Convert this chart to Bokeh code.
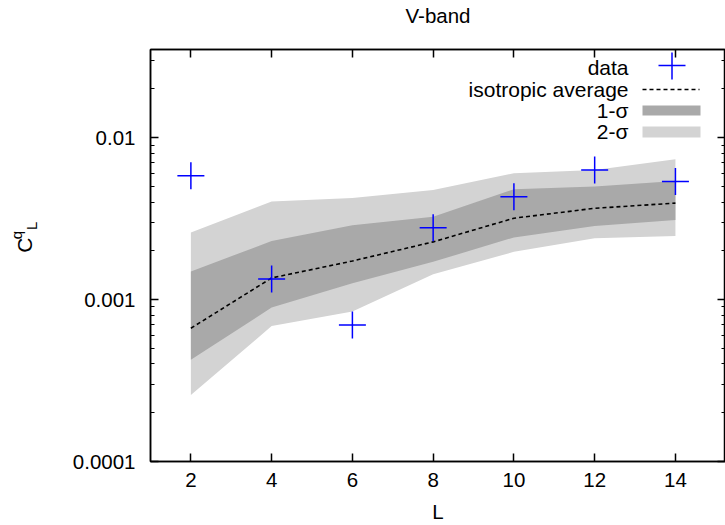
import math
from bokeh.plotting import figure
from bokeh.layouts import row, column
from bokeh.models import (Range1d, FixedTicker, LinearAxis, LogAxis, CustomJSTickFormatter,
                          Label, BoxAnnotation, PolyAnnotation, ColumnDataSource)
from bokeh.core.properties import value
from bokeh.embed import file_html
from bokeh.resources import INLINE

# ---- data ----
L = [2, 4, 6, 8, 10, 12, 14]
data = [0.00581, 0.00134, 0.000697, 0.00278, 0.00431, 0.00632, 0.00535]
iso_avg = [0.000665, 0.00136, 0.00173, 0.00227, 0.00318, 0.00366, 0.00394]
s1_lo = [0.000425, 0.000893, 0.00126, 0.00171, 0.00242, 0.00285, 0.0031]
s1_hi = [0.00149, 0.0023, 0.00288, 0.00324, 0.0048, 0.00499, 0.0054]
s2_lo = [0.000257, 0.000686, 0.000843, 0.001435, 0.00197, 0.00239, 0.00247]
s2_hi = [0.00259, 0.00403, 0.00423, 0.00475, 0.00603, 0.00632, 0.00736]
x_ticks = [2, 4, 6, 8, 10, 12, 14]
y_ticks = [0.0001, 0.001, 0.01]
y_minor = [m * d for d in (0.0001, 0.001, 0.01) for m in range(2, 10)]
legend_labels = ["data", "isotropic average", "1-\u03c3", "2-\u03c3"]
title_text = "V-band"

FONT = "Liberation Sans"
FS = "20.5px"
LFS = "21px"
DARK = "#a9a9a9"
LIGHT = "#d3d3d3"
W, H = 725, 525
LW = 40   # width of the y-label strip
TH = 30   # height of the title strip
MH = H - TH

src = ColumnDataSource(dict(L=L, data=data, avg=iso_avg, s1lo=s1_lo, s1hi=s1_hi,
                            s2lo=s2_lo, s2hi=s2_hi))

def strip(w, h):
    f = figure(width=w, height=h, x_range=Range1d(0, w), y_range=Range1d(0, h),
               output_backend="svg", toolbar_location=None, x_axis_location=None,
               y_axis_location=None, min_border=0, outline_line_color=None)
    f.xgrid.visible = False
    f.ygrid.visible = False
    return f

# ---- title strip ----
ttl = strip(W, TH)
ttl.text(x=[437.5], y=[TH - 15], text=[title_text], text_align="center",
         text_baseline="middle", text_font=value(FONT), text_font_size=FS, text_color="black")

# ---- y-axis label strip: C^q_L rotated ----
lab = strip(LW, MH)
for txt, x0, y0, fs in [("C", 24, 265, "21px"), ("q", 16, 253, "15px"), ("L", 31, 242, "15px")]:
    lab.text(x=[x0], y=[H - y0], text=[txt], angle=math.pi / 2, text_align="center",
             text_baseline="middle", text_font=value(FONT), text_font_size=fs,
             text_color="black")

p = figure(width=W - LW, height=MH, x_range=Range1d(1, 15.24), y_range=Range1d(1e-4, 0.035),
           y_axis_type="log", output_backend="svg", toolbar_location=None,
           min_border_left=150 - LW, min_border_right=0, min_border_top=49 - TH,
           min_border_bottom=H - 461)
p.outline_line_color = "black"
p.outline_line_width = 1.5
p.xgrid.visible = False
p.ygrid.visible = False

def style_axis(ax, labels=True):
    ax.axis_line_color = "black"
    ax.axis_line_width = 1.5
    ax.major_tick_in = 8
    ax.major_tick_out = 0
    ax.minor_tick_in = 4
    ax.minor_tick_out = 0
    ax.major_tick_line_color = "black"
    ax.minor_tick_line_color = "black"
    ax.major_tick_line_width = 1.5
    ax.minor_tick_line_width = 1.2
    ax.major_label_text_font = FONT
    ax.major_label_text_font_size = FS
    ax.major_label_text_color = "black"
    ax.axis_label_text_font = FONT
    ax.axis_label_text_font_size = FS
    ax.axis_label_text_font_style = "normal"
    ax.axis_label_text_color = "black"
    if not labels:
        ax.major_label_standoff = 0
        ax.formatter = CustomJSTickFormatter(code="return '';")

xa = p.xaxis[0]
xa.ticker = FixedTicker(ticks=x_ticks, minor_ticks=[])
style_axis(xa)
xa.axis_label = "L"
xa.major_label_standoff = 11
xa.axis_label_standoff = 10

ya = p.yaxis[0]
ya.ticker = FixedTicker(ticks=y_ticks, minor_ticks=y_minor)
style_axis(ya)
ya.formatter = CustomJSTickFormatter(code="return tick.toString();")
ya.major_label_standoff = 15

top = LinearAxis(ticker=FixedTicker(ticks=x_ticks, minor_ticks=[]))
style_axis(top, labels=False)
p.add_layout(top, "above")
right = LogAxis(ticker=FixedTicker(ticks=y_ticks, minor_ticks=y_minor))
style_axis(right, labels=False)
p.add_layout(right, "right")

# bands, average, data
p.varea(x="L", y1="s2lo", y2="s2hi", source=src, fill_color=LIGHT)
p.varea(x="L", y1="s1lo", y2="s1hi", source=src, fill_color=DARK)
p.line(x="L", y="avg", source=src, line_color="black", line_width=1.6, line_dash="4 3")
p.scatter(x="L", y="data", source=src, marker="cross", size=27, line_color="#0000ff",
          line_width=1.5)

# ---- legend (page pixel positions -> canvas of p) ----
def cx(px):
    return px - LW

def cy(py):
    return py - TH

row_y = [67, 89, 110, 131]
for txt, ry in zip(legend_labels, row_y):
    p.add_layout(Label(x=cx(628), y=cy(ry), x_units="canvas", y_units="canvas", text=txt,
                       text_align="right", text_baseline="middle", text_font=FONT,
                       text_font_size=LFS, text_color="black"))
p.add_layout(PolyAnnotation(xs=[cx(658), cx(685)], ys=[cy(65), cy(65)], xs_units="canvas",
                            ys_units="canvas", line_color="#0000ff", line_width=1.5,
                            line_alpha=1, fill_alpha=0))
p.add_layout(PolyAnnotation(xs=[cx(671.5), cx(671.5)], ys=[cy(52), cy(79)], xs_units="canvas",
                            ys_units="canvas", line_color="#0000ff", line_width=1.5,
                            line_alpha=1, fill_alpha=0))
p.add_layout(PolyAnnotation(xs=[cx(642), cx(699)], ys=[cy(89), cy(89)], xs_units="canvas",
                            ys_units="canvas", line_color="black", line_width=1.5,
                            line_alpha=1, line_dash="4 3", fill_alpha=0))
p.add_layout(BoxAnnotation(left=cx(642), right=cx(700), top=cy(105), bottom=cy(115),
                           left_units="canvas", right_units="canvas", top_units="canvas",
                           bottom_units="canvas", fill_color=DARK, fill_alpha=1,
                           line_alpha=0))
p.add_layout(BoxAnnotation(left=cx(642), right=cx(700), top=cy(126), bottom=cy(137),
                           left_units="canvas", right_units="canvas", top_units="canvas",
                           bottom_units="canvas", fill_color=LIGHT, fill_alpha=1,
                           line_alpha=0))

layout = column(ttl, row(lab, p, spacing=0), spacing=0)
open("out.html", "w").write(file_html(layout, INLINE))
